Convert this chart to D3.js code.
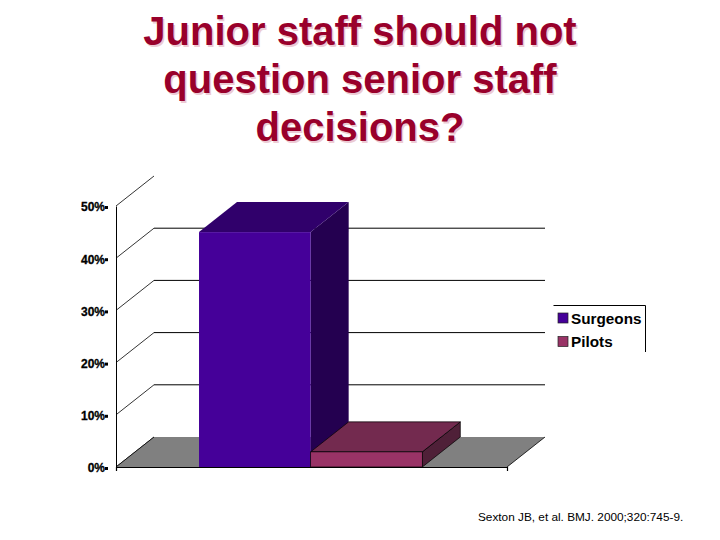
<!DOCTYPE html>
<html>
<head>
<meta charset="utf-8">
<script src="https://cdn.jsdelivr.net/npm/d3@7"></script>
<style>
  html, body { margin: 0; padding: 0; background: #fff; }
  text { font-family: "Liberation Sans", Arial, sans-serif; }
</style>
</head>
<body>
<div id="chart"></div>
<script>
var titleLines = ["Junior staff should not", "question senior staff", "decisions?"];
var series = ["Surgeons", "Pilots"];
var values = [45, 2.9];
var yTicks = [0, 10, 20, 30, 40, 50];
var source = "Sexton JB, et al. BMJ. 2000;320:745-9.";

var frontColors = ["#450099", "#993366"];
var topColors = ["#30006b", "#732a4f"];
var sideColors = ["#240050", "#4f2038"];

//depth of the fake 3d box
var depthX = 38, depthY = -30;

var svg = d3.select("#chart")
    .append("svg")
        .attr("width", 720)
        .attr("height", 540);

//title with its pale shadow
var titleY = [45, 93, 141];
titleLines.forEach(function(line, i) {
    svg.append("text")
        .attr("x", 360).attr("y", titleY[i])
        .attr("text-anchor", "middle")
        .style("font-size", "40px").style("font-weight", "bold")
        .style("fill", "#99002b")
        .style("text-shadow", "1.5px 1.5px 0 #eccbd4")
        .text(line);
});

//scales
var y = d3.scaleLinear().domain([0, 50]).range([467, 206]);
var xOuter = d3.scaleBand().domain(["all"]).range([116, 507]).paddingOuter(0.3755).align(0.495);
var x = d3.scaleBand().domain(series)
    .range([xOuter("all"), xOuter("all") + xOuter.bandwidth()]);

function poly(points) {
    return points.map(function(p) { return p.join(","); }).join(" ");
}

//back wall lines
var wall = svg.append("g");
yTicks.forEach(function(t) {
    wall.append("line")
        .attr("x1", 116).attr("y1", y(t))
        .attr("x2", 116 + depthX).attr("y2", y(t) + depthY)
        .attr("stroke", "#000").attr("stroke-width", 0.8);
    if (t > 0 && t < 50) {
        wall.append("line")
            .attr("x1", 116 + depthX).attr("y1", y(t) + depthY)
            .attr("x2", 507 + depthX).attr("y2", y(t) + depthY)
            .attr("stroke", "#000").attr("stroke-width", 1);
    }
});

//floor
svg.append("polygon")
    .attr("points", poly([[116, y(0)], [507, y(0)], [507 + depthX, y(0) + depthY], [116 + depthX, y(0) + depthY]]))
    .attr("fill", "#808080");
svg.append("line")
    .attr("x1", 507).attr("y1", y(0))
    .attr("x2", 507 + depthX).attr("y2", y(0) + depthY)
    .attr("stroke", "#000").attr("stroke-width", 0.8);
svg.append("line")
    .attr("x1", 116).attr("y1", y(0))
    .attr("x2", 116 + depthX).attr("y2", y(0) + depthY)
    .attr("stroke", "#000").attr("stroke-width", 0.8);

//bars
series.forEach(function(name, i) {
    var x0 = x(name), x1 = x0 + x.bandwidth();
    var yTop = y(values[i]), yBase = y(0);
    var g = svg.append("g").attr("stroke", "#000").attr("stroke-width", i === 0 ? 0 : 0.7);
    g.append("polygon")
        .attr("points", poly([[x1, yBase], [x1 + depthX, yBase + depthY], [x1 + depthX, yTop + depthY], [x1, yTop]]))
        .attr("fill", sideColors[i]);
    g.append("polygon")
        .attr("points", poly([[x0, yTop], [x1, yTop], [x1 + depthX, yTop + depthY], [x0 + depthX, yTop + depthY]]))
        .attr("fill", topColors[i]);
    g.append("rect")
        .attr("x", x0).attr("y", yTop)
        .attr("width", x1 - x0).attr("height", yBase - yTop)
        .attr("fill", frontColors[i]);
});

//Add Y axis, the tick is a small block right after the label
var yAxis = svg.append("g")
    .attr("transform", "translate(116,0)")
    .call(d3.axisLeft(y).tickValues(yTicks).tickSize(0).tickPadding(11)
        .tickFormat(function(d) { return d + "%"; }));
yAxis.selectAll("text")
    .attr("y", 1)
    .style("font-family", '"Liberation Sans", Arial, sans-serif')
    .style("font-size", "12px").style("font-weight", "bold").style("fill", "#000")
    .style("stroke", "#000").style("stroke-width", 0.3);
yAxis.selectAll(".tick line")
    .attr("x1", -11).attr("x2", -8)
    .attr("y1", 1).attr("y2", 1)
    .attr("stroke", "#000").attr("stroke-width", 3);
yAxis.select(".domain").attr("stroke", "#000").attr("stroke-width", 1);

//Add X axis
var xAxis = svg.append("g")
    .attr("transform", "translate(0," + y(0) + ")")
    .call(d3.axisBottom(d3.scaleLinear().domain([0, 1]).range([116, 507]))
        .tickValues([1]).tickSize(4).tickFormat(""));
xAxis.select(".domain").attr("stroke", "#000").attr("stroke-width", 1.2);

//legend box, only top and right are outlined in the original
svg.append("path")
    .attr("d", "M553.5,305.5H645.5V352")
    .attr("fill", "none").attr("stroke", "#000");
series.forEach(function(name, i) {
    var ly = 318.5 + i * 23.5;
    svg.append("rect")
        .attr("x", 558).attr("y", ly - 5.5)
        .attr("width", 10).attr("height", 10)
        .attr("fill", frontColors[i]).attr("stroke", "#222").attr("stroke-width", 0.7);
    svg.append("text")
        .attr("x", 571).attr("y", ly + 5)
        .style("font-size", "15.3px").style("font-weight", "bold")
        .text(name);
});

//source
svg.append("text")
    .attr("x", 478).attr("y", 521)
    .style("font-size", "11.8px")
    .text(source);
</script>
</body>
</html>
